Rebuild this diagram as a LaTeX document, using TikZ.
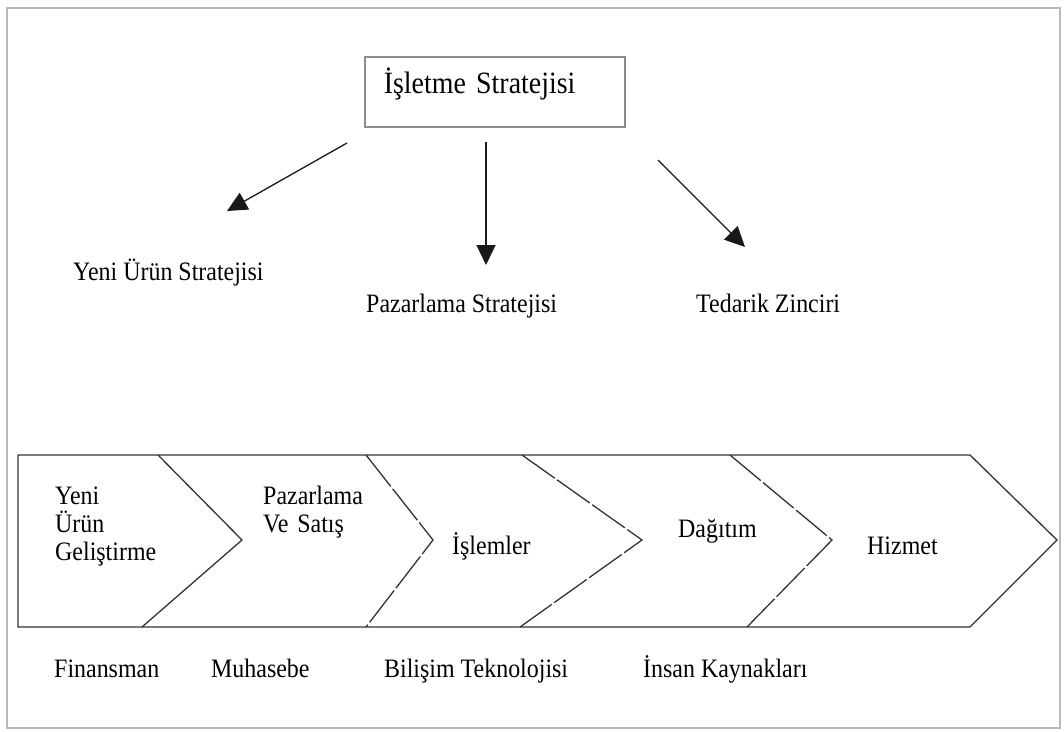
\documentclass[tikz,border=0pt]{standalone}
\usepackage{fontspec}
\setmainfont{Liberation Serif}[FakeStretch=0.9]
\usetikzlibrary{arrows.meta}
\begin{document}
\begin{tikzpicture}[x=1pt,y=-1pt,
  lbl/.style={inner sep=0pt, anchor=base west, text=black,
              font=\fontsize{26.6}{28}\selectfont},
  stack/.style={lbl, text width=140pt, align=left},
  conn/.style={line width=1.3pt, draw=black!90,
               -{Triangle[length=20pt,width=19pt]}},
  band/.style={line width=1.3pt, draw=black!80, line join=miter},
  sep/.style={band, dash pattern=on 40pt off 3pt},
  ]
\useasboundingbox (0,0) rectangle (1064,731);

% outer frame
\draw[black!28, line width=2pt] (7,8) rectangle (1060,728);

% top box
\node[draw=black!45, line width=1.5pt, anchor=north west,
      inner xsep=19pt, inner ysep=0pt, text width=222pt, align=left,
      text height=37pt, text depth=33pt, text=black,
      font=\fontsize{31}{34}\selectfont] (strat) at (364,56)
      {İşletme Stratejisi};

% strategy labels
\node[lbl] (yus) at (73,280) {Yeni Ürün Stratejisi};
\node[lbl] (pzs) at (366,312) {Pazarlama Stratejisi};
\node[lbl] (tdz) at (696,312) {Tedarik Zinciri};

% arrow end points
\coordinate (a1s) at (347,143); \coordinate (a1e) at (227,211);
\coordinate (a2s) at (486,142); \coordinate (a2e) at (486,265);
\coordinate (a3s) at (658,160); \coordinate (a3e) at (745,247);
\draw[conn] (a1s) -- (a1e);
\draw[conn] (a2s) -- (a2e);
\draw[conn] (a3s) -- (a3e);

% value chain band
\draw[band] (18,455) -- (970,455) -- (1057,540) -- (970,627) -- (18,627) -- cycle;
\draw[band] (158,455) -- (242,540) -- (142,627);
\draw[sep] (366,455) -- (433,540) -- (366,627);
\draw[sep] (522,455) -- (642,540) -- (520,627);
\draw[sep] (730,455) -- (832,540) -- (747,627);

% chain stages
\node[stack] (s1) at (55,504) {Yeni\\Ürün\\Geliştirme};
\node[stack] (s2) at (263,504) {Pazarlama\\Ve Satış};
\node[lbl] (s3) at (452,554) {İşlemler};
\node[lbl] (s4) at (678,537) {Dağıtım};
\node[lbl] (s5) at (867,554) {Hizmet};

% support functions
\node[lbl] (f1) at (54,677) {Finansman};
\node[lbl] (f2) at (211,677) {Muhasebe};
\node[lbl] (f3) at (384,677) {Bilişim Teknolojisi};
\node[lbl] (f4) at (643,677) {İnsan Kaynakları};
\end{tikzpicture}
\end{document}
